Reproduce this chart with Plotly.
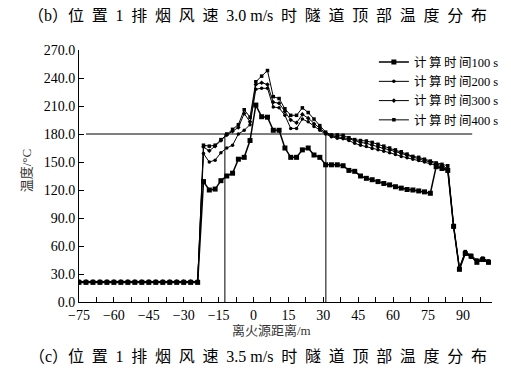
import plotly.graph_objects as go

# distance from fire source (m)
x_dist = [-75, -72, -69, -66, -63, -60, -57, -54, -51, -48, -45, -42, -39, -36, -33, -30, -27, -24,
          -21.5, -19, -16.5, -14, -11.5, -9, -6.5, -4, -1.5, 1, 3.5, 6, 8.5, 11, 13.5, 16, 18.5, 21,
          23.5, 26, 28.5, 31, 33.5, 36, 38.5, 41, 43.5, 46, 48.5, 51, 53.5, 56, 58.5, 61, 63.5, 66,
          68.5, 71, 73.5, 76, 78.5, 81, 83.5, 86, 88.5, 91, 93.5, 96, 98.5, 101]

flat_100 = [21] * 18
flat_other = [22] * 18

t100 = flat_100 + [129, 120, 121, 130, 135, 138, 153, 155, 173, 211,
                   198.5, 198, 184, 184, 165, 155, 155, 163, 165, 157.5,
                   155, 147, 147, 147, 146, 141, 140, 135, 132.5, 131,
                   129, 127, 125.5, 123.5, 122, 120.5, 120, 119, 118, 116.5,
                   145, 143, 141, 81, 35, 52, 49, 42.5, 45.5, 42.5]
t200 = flat_other + [159, 150, 152, 160, 165, 168, 180, 184, 190, 228,
                     229, 229, 209, 208, 200, 186, 186, 196, 193, 188,
                     184, 180, 177, 175.5, 175, 173, 170, 168, 166.5, 164.5,
                     163, 161.5, 160, 158, 156, 154.5, 153, 151.5, 150, 148,
                     146.5, 144.5, 141, 80, 35, 52, 48, 43, 45, 42]
t300 = flat_other + [166, 162, 167, 173, 179, 183, 187, 202, 193, 233,
                     235, 233, 214, 213, 204, 195, 192, 201, 197, 191,
                     186, 181, 178, 177, 176, 175, 173, 171, 170, 168,
                     166, 164.5, 163, 161, 159, 157, 155, 153, 151.5, 150,
                     148, 146, 143, 81, 36, 53, 49, 44, 46, 43]
t400 = flat_other + [168, 167, 168, 174, 180, 185, 190, 206, 198, 236,
                     242, 248, 220, 218, 207, 200, 200, 208, 203, 196,
                     189, 182, 179, 179, 178.5, 176, 174, 173, 172.5, 171,
                     169, 167, 165, 163, 161, 158.5, 156, 155, 153, 151,
                     149, 147.5, 146, 82, 37, 54, 50, 45, 47, 44]

series_names = ["计\u2009算\u2009时\u2009间100 s", "计\u2009算\u2009时\u2009间200 s",
                "计\u2009算\u2009时\u2009间300 s", "计\u2009算\u2009时\u2009间400 s"]

# reference lines
ref_h_x = [-72, 94]
ref_h_y = [180, 180]
ref_v1_x = [-12.3, -12.3]
ref_v2_x = [31.1, 31.1]
ref_v_y = [0, 180]

x_ticks = [-75, -60, -45, -30, -15, 0, 15, 30, 45, 60, 75, 90]
y_ticks = [0, 30, 60, 90, 120, 150, 180, 210, 240, 270]

FONT = "Liberation Serif, Noto Sans CJK SC, serif"

fig = go.Figure()
styles = [
    dict(symbol="square", size=5, lw=1.5),
    dict(symbol="circle", size=3.5, lw=1.0),
    dict(symbol="diamond", size=3.5, lw=1.0),
    dict(symbol="square", size=3.5, lw=1.0),
]
for name, ys, st in zip(series_names, [t100, t200, t300, t400], styles):
    fig.add_trace(go.Scatter(
        x=x_dist, y=ys, name=name, mode="lines+markers",
        line=dict(color="black", width=st["lw"]),
        marker=dict(symbol=st["symbol"], size=st["size"], color="black"),
    ))

for xs, ys in [(ref_h_x, ref_h_y), (ref_v1_x, ref_v_y), (ref_v2_x, ref_v_y)]:
    fig.add_trace(go.Scatter(x=xs, y=ys, mode="lines", showlegend=False,
                             line=dict(color="black", width=1), hoverinfo="skip"))

sp = "\u2009\u2009\u200a"
title_b = "（b）" + sp.join("位置") + sp + "1" + sp + sp.join("排烟风速") + sp + "3.0 m/s" + sp + sp.join("时隧道顶部温度分布")
title_c = "（c）" + sp.join("位置") + sp + "1" + sp + sp.join("排烟风速") + sp + "3.5 m/s" + sp + sp.join("时隧道顶部温度分布")

fig.update_layout(
    width=503, height=371,
    margin=dict(l=71, r=19, t=42, b=77, autoexpand=False),
    paper_bgcolor="white", plot_bgcolor="white",
    font=dict(family=FONT, size=13, color="black"),
    showlegend=True,
    legend=dict(x=0.714, y=1.01, xanchor="left", yanchor="top", bgcolor="rgba(0,0,0,0)",
                font=dict(family=FONT, size=12.5), tracegroupgap=0, itemwidth=30),
    annotations=[
        dict(text=title_b, xref="paper", yref="paper", x=0.433, xanchor="center",
             y=1.135, yanchor="middle", showarrow=False,
             font=dict(family=FONT, size=16, color="black")),
        dict(text=title_c, xref="paper", yref="paper", x=0.433, xanchor="center",
             y=-0.218, yanchor="middle", showarrow=False,
             font=dict(family=FONT, size=16, color="black")),
        dict(text="离火源距离/m", xref="paper", yref="paper", x=0.465, xanchor="center",
             y=-0.115, yanchor="middle", showarrow=False,
             font=dict(family=FONT, size=13, color="#333")),
        dict(text="温度/°C", xref="paper", yref="paper", x=-0.125, xanchor="center",
             y=0.52, yanchor="middle", showarrow=False, textangle=-90,
             font=dict(family=FONT, size=13, color="#333")),
    ],
)
fig.update_xaxes(
    range=[-75, 102.5], tickvals=x_ticks, ticks="inside", ticklen=5, tickcolor="black",
    showline=True, linecolor="black", linewidth=1, showgrid=False, zeroline=False,
    minor=dict(dtick=7.5, tick0=-75, ticks="inside", ticklen=5, tickcolor="black"),
    tickfont=dict(family=FONT, size=14, color="black"), automargin=False,
)
fig.update_yaxes(
    range=[0, 270], tickvals=y_ticks, ticktext=[f"{v:.1f}" for v in y_ticks],
    ticks="inside", ticklen=5, tickcolor="black",
    showline=True, linecolor="black", linewidth=1, showgrid=False, zeroline=False,
    tickfont=dict(family=FONT, size=14, color="black"), automargin=False,
)
fig.write_html("out.html")
